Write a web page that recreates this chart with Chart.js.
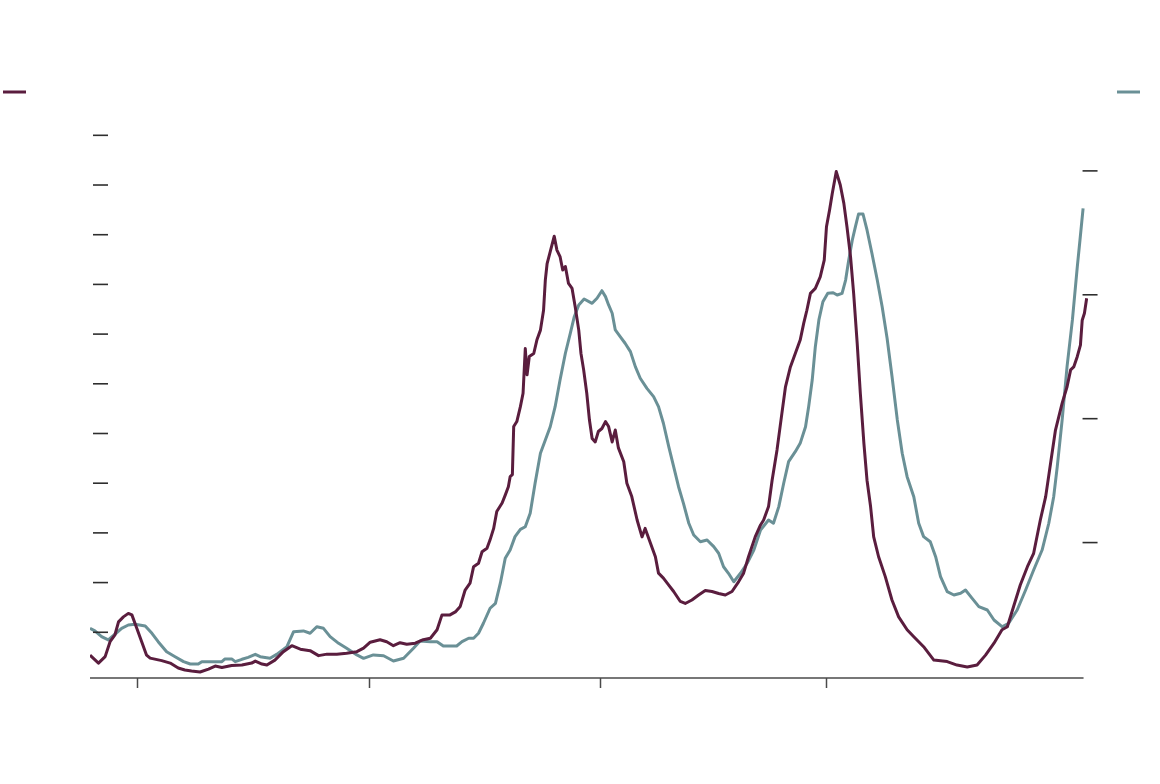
<!DOCTYPE html>
<html>
<head>
<meta charset="utf-8">
<script src="https://cdn.jsdelivr.net/npm/chart.js@4/dist/chart.umd.min.js"></script>
<style>
  html, body { margin: 0; padding: 0; background: #fff; }
  #grafico { display: block; }
</style>
</head>
<body>
<canvas id="grafico" width="1160" height="784"></canvas>
<script>
// semanas desde o início da série (eixo x)
const semanasRoxo = [0, 1.9, 3.4, 4.5, 5.6, 6.4, 7.5, 8.6, 9.4, 10.5, 11.6, 12.7, 13.5, 16.1, 18.0, 19.8, 21.3, 22.8, 24.7, 26.6, 28.1, 29.6, 31.8, 34.1, 36.3, 37.1, 38.6, 39.7, 41.5, 43.4, 45.3, 47.2, 49.4, 51.3, 53.2, 55.4, 57.6, 59.9, 61.4, 62.9, 65.1, 66.6, 68.1, 69.6, 71.1, 73.0, 74.8, 76.4, 77.9, 79.0, 80.8, 82.0, 83.1, 84.2, 85.3, 86.1, 87.2, 88.0, 89.1, 89.8, 90.6, 91.3, 92.5, 93.2, 93.9, 94.3, 94.8, 95.1, 95.8, 96.6, 97.2, 97.7, 98.1, 98.6, 99.6, 100.3, 101.1, 101.8, 102.2, 102.6, 103.3, 104.2, 104.8, 105.5, 106.1, 106.7, 107.4, 108.2, 108.9, 109.7, 110.2, 110.8, 111.5, 112.1, 112.7, 113.4, 114.1, 114.9, 115.7, 116.4, 117.2, 117.9, 118.6, 119.8, 120.5, 121.6, 122.8, 123.9, 124.6, 125.8, 126.9, 127.6, 128.7, 129.9, 131.0, 132.5, 133.6, 135.1, 136.6, 138.1, 139.6, 141.1, 142.6, 144.1, 145.6, 146.7, 147.8, 149.3, 150.5, 151.2, 152.3, 153.1, 154.2, 155.3, 156.1, 157.2, 158.3, 159.4, 160.2, 160.9, 161.7, 162.8, 163.9, 164.8, 165.3, 166.0, 166.6, 167.5, 168.4, 169.2, 169.9, 170.7, 171.4, 172.2, 172.9, 173.7, 174.4, 175.2, 175.9, 177.0, 178.5, 180.0, 181.5, 183.4, 184.9, 187.1, 189.4, 192.4, 194.6, 196.9, 199.1, 201.0, 202.9, 204.7, 205.9, 207.3, 208.8, 210.4, 211.8, 213.3, 214.5, 215.6, 216.7, 218.2, 219.3, 220.1, 220.8, 221.6, 222.3, 222.7, 223.2, 223.7];
const valoresRoxo = [5.4, 3.8, 5.1, 8.1, 9.5, 12.1, 13.1, 13.8, 13.5, 10.8, 8.1, 5.4, 4.8, 4.3, 3.8, 2.8, 2.4, 2.2, 2.0, 2.6, 3.2, 2.9, 3.3, 3.4, 3.8, 4.2, 3.6, 3.4, 4.4, 6.1, 7.3, 6.6, 6.3, 5.3, 5.6, 5.6, 5.8, 6.1, 6.8, 8.0, 8.5, 8.1, 7.3, 7.9, 7.6, 7.8, 8.5, 8.8, 10.5, 13.5, 13.5, 14.1, 15.2, 18.5, 19.9, 23.2, 23.9, 26.2, 26.9, 28.6, 30.9, 34.3, 36.0, 37.6, 39.3, 41.3, 41.7, 51.4, 52.4, 55.4, 58.1, 67.1, 61.8, 65.5, 66.1, 68.8, 70.8, 74.8, 80.9, 84.2, 86.6, 89.7, 86.9, 85.6, 82.9, 83.6, 80.2, 79.2, 75.5, 70.8, 66.1, 62.8, 58.1, 52.7, 49.0, 48.3, 50.4, 51.0, 52.4, 51.4, 48.3, 50.7, 47.1, 44.3, 40.0, 37.3, 32.6, 29.2, 30.9, 27.9, 25.2, 21.9, 20.9, 19.5, 18.2, 16.2, 15.8, 16.5, 17.5, 18.4, 18.2, 17.8, 17.5, 18.2, 20.2, 21.9, 25.2, 29.2, 31.6, 32.6, 35.3, 40.6, 46.7, 54.1, 59.4, 63.4, 66.1, 68.8, 72.2, 74.8, 78.2, 79.2, 81.5, 84.9, 91.6, 95.0, 98.3, 102.7, 100.0, 96.3, 91.6, 85.6, 78.2, 68.1, 58.1, 48.0, 40.6, 35.3, 29.2, 25.2, 21.2, 16.5, 13.1, 10.5, 9.1, 7.1, 4.4, 4.1, 3.4, 3.0, 3.4, 5.4, 7.8, 10.5, 11.1, 15.2, 19.5, 23.2, 25.9, 32.6, 37.3, 44.0, 50.7, 56.1, 59.4, 62.8, 63.4, 65.5, 67.8, 72.8, 74.2, 77.2];

const semanasVerde = [0, 1.1, 2.6, 4.1, 5.6, 7.1, 8.6, 10.1, 12.4, 13.9, 15.3, 17.2, 19.1, 21.0, 22.5, 24.3, 25.1, 29.6, 30.3, 31.8, 32.6, 34.1, 35.5, 37.1, 38.2, 40.4, 41.9, 44.2, 45.7, 47.9, 49.4, 50.9, 52.4, 53.9, 55.8, 57.6, 59.9, 61.4, 63.6, 65.9, 68.1, 70.4, 72.6, 74.1, 76.4, 77.9, 79.3, 82.3, 83.5, 85.0, 86.1, 87.2, 88.3, 89.8, 91.0, 92.1, 93.2, 94.3, 95.4, 96.6, 97.7, 98.8, 99.9, 101.1, 102.2, 103.3, 104.4, 105.5, 106.7, 107.8, 108.7, 109.7, 110.9, 112.7, 113.8, 114.9, 115.7, 116.4, 117.2, 117.9, 119.0, 120.1, 121.3, 122.4, 123.5, 125.0, 126.5, 127.6, 128.7, 129.9, 131.0, 132.1, 133.2, 134.4, 135.5, 137.0, 138.5, 140.0, 141.1, 142.2, 143.3, 144.5, 146.0, 147.5, 149.0, 150.5, 152.3, 153.4, 154.6, 155.7, 156.8, 158.3, 159.4, 160.6, 161.3, 162.1, 162.8, 163.6, 164.5, 165.6, 166.8, 167.7, 168.8, 169.6, 170.3, 171.1, 171.8, 172.5, 173.5, 174.4, 175.5, 176.7, 177.8, 178.9, 180.0, 181.2, 182.3, 183.4, 184.9, 186.0, 187.1, 188.6, 189.8, 190.9, 192.4, 193.9, 195.4, 196.5, 198.0, 199.5, 201.4, 202.9, 204.7, 206.2, 208.1, 210.0, 211.8, 213.7, 215.2, 216.3, 217.1, 218.2, 219.3, 220.5, 221.6, 222.2, 222.9];
const valoresVerde = [30.8, 28.7, 24.1, 21.4, 26.0, 30.8, 33.5, 34.1, 32.7, 26.8, 20.0, 11.9, 7.9, 3.9, 2.0, 2.0, 3.9, 3.9, 6.1, 6.1, 3.9, 5.8, 7.4, 9.8, 7.9, 6.6, 9.8, 16.0, 28.1, 28.7, 26.8, 32.1, 30.8, 24.1, 18.7, 14.7, 9.3, 6.6, 9.3, 8.7, 4.4, 6.6, 14.7, 20.6, 20.0, 20.0, 16.5, 16.5, 20.0, 22.8, 22.8, 26.8, 34.9, 47.0, 51.0, 67.2, 87.3, 94.0, 104.8, 110.7, 112.8, 123.6, 147.9, 172.1, 182.8, 193.5, 209.7, 231.2, 252.8, 268.9, 282.3, 291.8, 296.6, 293.1, 297.2, 303.3, 298.5, 291.8, 285.1, 271.6, 266.2, 260.9, 254.1, 242.0, 232.6, 224.5, 217.8, 209.7, 196.3, 177.4, 161.3, 145.1, 131.7, 115.6, 106.1, 100.7, 102.1, 96.7, 91.4, 80.5, 75.2, 68.4, 75.2, 83.3, 94.0, 110.2, 118.2, 115.6, 129.0, 147.9, 165.3, 173.4, 180.1, 193.5, 209.7, 231.2, 258.1, 279.7, 294.4, 301.2, 301.7, 299.8, 301.2, 311.9, 328.1, 344.2, 355.0, 365.2, 365.2, 352.3, 333.5, 311.9, 290.4, 265.1, 234.5, 199.0, 172.1, 153.2, 137.0, 115.6, 104.8, 100.7, 88.6, 72.5, 60.4, 57.7, 59.1, 61.7, 55.0, 48.3, 45.6, 37.5, 32.1, 34.9, 45.6, 61.7, 77.9, 94.0, 115.6, 137.0, 161.3, 199.0, 242.0, 279.7, 322.7, 344.2, 369.8];

// marcas dos eixos
const ticksX = [10.5, 62.6, 114.5, 165.3];
const fimEixoX = 223;
const ticksEsquerda = [10, 20, 30, 40, 50, 60, 70, 80, 90, 100, 110];
const ticksDireita = [100, 200, 300, 400];

const cores = {
    roxo: '#5a1d3e',
    verde: '#6a9096',
    eixo: '#4a4a4a',
    marca: '#2e2e2e'
};

const pontos = (xs, ys) => xs.map((x, i) => ({ x: x, y: ys[i] }));

// desenha eixo x, marcas e legenda
const eixosPlugin = {
    id: 'eixos',
    afterDraw(chart) {
        const ctx = chart.ctx;
        const area = chart.chartArea;
        const sx = chart.scales.x;
        const sl = chart.scales.yEsq;
        const sr = chart.scales.yDir;
        const direita = sx.getPixelForValue(fimEixoX);

        ctx.save();
        ctx.lineCap = 'butt';

        // linha do eixo x
        ctx.strokeStyle = cores.eixo;
        ctx.lineWidth = 1.5;
        ctx.beginPath();
        ctx.moveTo(area.left, area.bottom);
        ctx.lineTo(direita, area.bottom);
        ctx.stroke();

        ticksX.forEach(v => {
            const px = Math.round(sx.getPixelForValue(v)) + 0.5;
            ctx.beginPath();
            ctx.moveTo(px, area.bottom);
            ctx.lineTo(px, area.bottom + 10);
            ctx.stroke();
        });

        ctx.strokeStyle = cores.marca;
        ctx.lineWidth = 1.6;
        ticksEsquerda.forEach(v => {
            const py = sl.getPixelForValue(v);
            ctx.beginPath();
            ctx.moveTo(area.left + 3, py);
            ctx.lineTo(area.left + 18, py);
            ctx.stroke();
        });
        ticksDireita.forEach(v => {
            const py = sr.getPixelForValue(v);
            ctx.beginPath();
            ctx.moveTo(direita - 1, py);
            ctx.lineTo(direita + 14, py);
            ctx.stroke();
        });

        // legenda
        ctx.lineWidth = 3;
        ctx.strokeStyle = cores.roxo;
        ctx.beginPath();
        ctx.moveTo(3, 92);
        ctx.lineTo(26, 92);
        ctx.stroke();
        ctx.strokeStyle = cores.verde;
        ctx.beginPath();
        ctx.moveTo(1117, 92);
        ctx.lineTo(1140, 92);
        ctx.stroke();

        ctx.restore();
    }
};

new Chart(document.getElementById('grafico'), {
    type: 'line',
    data: {
        datasets: [
            {
                label: 'roxo',
                data: pontos(semanasRoxo, valoresRoxo),
                yAxisID: 'yEsq',
                borderColor: cores.roxo,
                borderWidth: 3,
                pointRadius: 0,
                tension: 0,
                borderJoinStyle: 'round'
            },
            {
                label: 'verde',
                data: pontos(semanasVerde, valoresVerde),
                yAxisID: 'yDir',
                borderColor: cores.verde,
                borderWidth: 3,
                pointRadius: 0,
                tension: 0,
                borderJoinStyle: 'round'
            }
        ]
    },
    options: {
        responsive: false,
        animation: false,
        devicePixelRatio: 1,
        layout: {
            padding: { left: 90, right: 72, top: 130, bottom: 106 }
        },
        plugins: {
            legend: { display: false },
            tooltip: { enabled: false }
        },
        scales: {
            x: { type: 'linear', display: false, min: 0, max: 224 },
            yEsq: { type: 'linear', position: 'left', display: false, min: 0.8, max: 111.07 },
            yDir: { type: 'linear', position: 'right', display: false, min: -9.3, max: 433.0 }
        }
    },
    plugins: [eixosPlugin]
});
</script>
</body>
</html>
